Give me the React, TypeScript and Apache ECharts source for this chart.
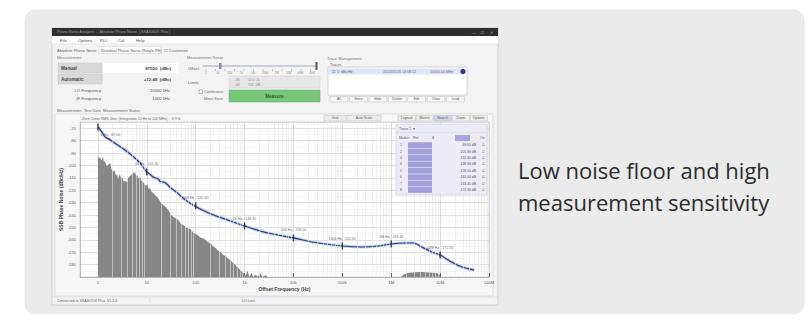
import React, { useEffect, useRef } from 'react';
import * as echarts from 'echarts';

// ---------- data ----------
const xTickLabels = ['1', '10', '100', '1k', '10k', '100k', '1M', '10M', '100M'];
const yTickMin = -190;
const yTickMax = -65;

const curveFreqs = [1, 1.2, 1.4, 1.8, 2.2, 3, 4, 5.5, 7.3, 10, 11.5, 13.5, 15, 17, 19, 22, 26, 30, 35, 42, 49, 65, 90, 130, 230, 450, 1000, 3000, 10000, 32000, 100000, 250000, 550000, 1000000, 1900000, 2900000, 4200000, 6800000, 10000000, 17000000, 28000000, 50000000];
const curveValues = [-69, -73, -77, -79.5, -82, -85.5, -89, -93.5, -98, -105.3, -107, -109.4, -110.2, -110.8, -113.2, -113.4, -115.2, -117.8, -119.8, -122, -124.7, -128.5, -132.1, -135.6, -140, -144, -148.9, -154.5, -158.5, -162.6, -165, -165.8, -165, -163.4, -162.6, -162.6, -165.8, -169.8, -172.3, -177.9, -181.9, -184.4];

const floorFreqs = [1, 1.05, 1.1, 1.17, 1.27, 1.33, 1.39, 1.5, 1.61, 1.77, 1.9, 2.04, 2.2, 2.35, 2.47, 2.58, 2.7, 2.84, 3.0, 3.12, 3.35, 3.59, 3.95, 4.2, 4.55, 4.9, 5.25, 5.5, 5.77, 6.1, 6.35, 6.8, 7.31, 7.9, 8.43, 9.2, 10.2, 11, 11.7, 12.6, 13.5, 15.2, 17, 19, 21.7, 24.5, 27.5, 31, 35, 39, 44, 50, 56, 66, 78, 92, 109, 128, 151, 175, 200, 228, 256, 290, 324, 365, 410, 465, 520, 575, 630, 680, 720, 775, 830, 900, 960, 1050, 1150, 1250, 1400, 1500, 1700, 1850, 2100, 2300, 2700, 3000, 1600000, 1800000, 2100000, 3000000, 4200000, 6000000, 8500000, 9800000, 10000000];
const floorValues = [-91.6, -95, -93, -96, -93.2, -97.5, -96.5, -100.5, -99.7, -98.1, -103, -105.3, -104, -108.5, -107, -111.8, -108, -107.7, -111, -109.4, -113, -112.6, -113.4, -110, -108.5, -107.5, -105.3, -106.8, -105.3, -108.5, -107.7, -110.5, -109.4, -113, -113.4, -116.2, -115.8, -119, -118.2, -121.5, -122.3, -124.5, -126.3, -129.5, -131.9, -133.5, -136, -139.5, -141.6, -142.5, -144, -147, -148.1, -150.5, -151.3, -154.5, -156.1, -158.3, -159.4, -161.8, -162.6, -165.5, -166.6, -168.8, -169.8, -172, -173, -175.5, -176.3, -178.8, -179.5, -181.5, -181.9, -183.6, -184.4, -186.2, -186.8, -189, -185, -190, -186.5, -190, -188, -190, -186.8, -190, -188.5, -190, -190, -188, -186.8, -186.2, -186, -186.3, -186.8, -188, -190];

const markerFreqs = [1, 10, 100, 1000, 10000, 100000, 1000000, 10000000];
const markerValues = [-69.0, -105.3, -132.4, -148.9, -158.5, -165.0, -163.4, -172.3];

const headline = ['Low noise floor and high', 'measurement sensitivity'];

// ---------- helpers ----------
const UI = 'Liberation Sans, Arial, sans-serif';
const R = (x: number, y: number, w: number, h: number, fill: string, stroke?: string, z = -10, r = 0) => ({
  type: 'rect', z, silent: true,
  shape: { x, y, width: w, height: h, r },
  style: { fill, stroke: stroke || 'none', lineWidth: stroke ? 0.6 : 0 },
});
const T = (x: number, y: number, text: string, size = 4.3, fill = '#555', align = 'left', weight = 'normal', z = -5) => ({
  type: 'text', z, silent: true, x, y,
  style: { text, fontSize: size, fontFamily: UI, fill, align, verticalAlign: 'middle', fontWeight: weight },
});
const L = (x1: number, y1: number, x2: number, y2: number, stroke: string, lw = 0.6, z = -5) => ({
  type: 'line', z, silent: true, shape: { x1, y1, x2, y2 }, style: { stroke, lineWidth: lw },
});

const fmtFreq = (f: number) => xTickLabels[Math.round(Math.log10(f))] + ' Hz';

function buildGraphics() {
  const g: any[] = [];
  // card
  g.push(R(25, 10, 779, 304, '#ebebeb', '#e0e0e0', -20, 10));
  // window
  g.push(R(52, 28, 446, 277, '#f3f3f3', '#bcbcbc', -19));
  g.push(R(52, 28, 446, 8, '#2f2f2f', undefined, -18));
  g.push(T(57, 32, 'Phase Noise Analyzer  -  Absolute Phase Noise  [ SSA3000X Plus ]', 3.8, '#9a9a9a'));
  g.push(T(472, 32, '—', 4, '#aaa'), T(481, 32, '□', 4.5, '#aaa'), T(490, 32, '✕', 4, '#aaa'));
  // menu
  g.push(R(52, 36, 446, 8, '#fdfdfd', undefined, -18));
  ['File', 'Options', 'PLL', 'Cal', 'Help'].forEach((m, i) => g.push(T([60, 78, 100, 118, 136][i], 40, m, 4.2, '#555')));
  g.push(L(52, 44, 498, 44, '#dddddd'));
  // tabs
  g.push(R(99, 46.5, 62, 7, '#fbfbfb', '#d6d6d6', -18));
  g.push(T(57, 50, 'Absolute Phase Noise', 4, '#666'));
  g.push(T(101, 50, 'Residual Phase Noise (Single RF)', 4, '#666'));
  g.push(T(164, 50, '☐ Customize', 4, '#666'));
  // left group
  g.push(T(57, 57, 'Measurement', 4, '#777'));
  g.push(R(58, 63, 44, 10, '#d9d9d9', '#cfcfcf', -18));
  g.push(R(58, 74, 44, 10, '#d9d9d9', '#cfcfcf', -18));
  g.push(T(61, 68, 'Manual', 4.6, '#444', 'left', 'bold'));
  g.push(T(61, 79, 'Automatic', 4.6, '#444', 'left', 'bold'));
  g.push(R(103, 63, 75, 10, '#ffffff', undefined, -18));
  g.push(T(171, 68, '87500  (dBc)', 4.4, '#444', 'right', 'bold'));
  g.push(T(171, 79, '+12.48  (dBc)', 4.4, '#444', 'right', 'bold'));
  g.push(T(101, 90, 'LO Frequency', 4.2, '#555', 'right'));
  g.push(T(101, 98, 'IF Frequency', 4.2, '#555', 'right'));
  g.push(T(170, 90, '10000 kHz', 4.2, '#555', 'right'));
  g.push(T(170, 98, '1000 kHz', 4.2, '#555', 'right'));
  // middle group
  g.push(T(187, 57, 'Measurement Setup', 4, '#777'));
  g.push(T(188, 68, 'Offset', 4.2, '#555'));
  g.push(L(203, 66, 317, 66, '#9aa6c4', 1));
  for (let i = 0; i < 12; i++) g.push(L(206 + i * 9.5, 69, 206 + i * 9.5, 71, '#888', 0.5));
  ['1', '10', '100', '1k', '10k', '100k', '1M', '10M', '40M', '80M'].forEach((s, i) => g.push(T(206 + i * 11.8, 73, s, 2.8, '#888', 'center')));
  g.push(R(219, 63, 2.5, 6, '#7f8fbf', undefined, -4));
  g.push(R(315.5, 62, 2, 8, '#555', undefined, -4));
  g.push(T(188, 82, 'Limits', 4.2, '#555'));
  g.push(R(229, 76, 91, 12, '#e6e6e6', '#d6d6d6', -18));
  g.push(T(235, 79.5, '-30', 3.3, '#888'), T(235, 84.5, '-60', 3.3, '#888'));
  g.push(T(248, 79.5, '10.0  1k', 3.3, '#888'), T(248, 84.5, '100  1M', 3.3, '#888'));
  g.push(R(199, 90, 3.5, 3.5, '#fff', '#888', -4));
  g.push(T(204, 92, 'Continuous', 3.8, '#666'));
  g.push(T(204, 98.5, 'Meas Save', 3.8, '#666'));
  g.push(R(229, 90, 91, 12, '#79c67a', '#6ab56b', -18));
  g.push(T(274.5, 96, 'Measure', 4.6, '#2f5f30', 'center', 'bold'));
  // right group
  g.push(T(327, 58, 'Trace Management', 4, '#777'));
  g.push(T(330, 64.5, 'Traces', 3.8, '#666'));
  g.push(R(328, 67, 139, 28, '#ffffff', '#bdbdbd', -18));
  g.push(R(329, 68.5, 137, 6, '#dde5f6', undefined, -17));
  g.push(T(332, 71.5, '☑ 1: dBc/Hz', 3.6, '#555'));
  g.push(T(383, 71.5, '2024/05/16 14:08:12', 3.6, '#666'));
  g.push(T(430, 71.5, '10000.00 MHz', 3.6, '#666'));
  g.push({ type: 'circle', z: -4, silent: true, shape: { cx: 463, cy: 71.5, r: 2.6 }, style: { fill: '#2b3a86' } });
  ['All', 'Show', 'Hide', 'Delete', 'Edit', 'Clear', 'Load'].forEach((b, i) => {
    g.push(R(330 + i * 19.4, 96.5, 18, 5.5, '#f7f7f7', '#c4c4c4', -17));
    g.push(T(339 + i * 19.4, 99.3, b, 3.4, '#555', 'center'));
  });
  // measurement info line
  g.push(T(57, 110.5, 'Measurement', 4, '#666'));
  g.push(T(84, 110.5, 'Test Date  Measurement Status', 4, '#666'));
  // plot panel
  g.push(R(55, 114, 438, 182, '#f6f6f6', '#d2d2d2', -18));
  g.push(T(82, 118.5, 'Zero Cross RMS Jitter (Integration 10 Hz to 100 MHz) :  8.9 fs', 3.6, '#666'));
  g.push(R(324, 115.5, 22, 5.5, '#ededed', '#c8c8c8', -17), T(335, 118.3, 'Grid', 3.4, '#555', 'center'));
  g.push(R(347, 115.5, 34, 5.5, '#ededed', '#c8c8c8', -17), T(364, 118.3, 'Auto Scale', 3.4, '#555', 'center'));
  ['Legend', 'Marker', 'Search', 'Zoom', 'Options'].forEach((b, i) => {
    g.push(R(398 + i * 18, 115.5, 17.5, 5.5, i === 2 ? '#cfd3e6' : '#ededed', '#c8c8c8', -17));
    g.push(T(406.7 + i * 18, 118.3, b, 3.4, '#555', 'center'));
  });
  // status bar
  g.push(L(52, 297, 498, 297, '#d6d6d6'));
  g.push(T(57, 300.5, 'Connected to SSA3075X Plus  V1.2.0', 3.6, '#666'));
  g.push(T(242, 300.5, 'LO Lock', 3.6, '#666'));
  g.push(L(150, 298, 150, 303, '#cfcfcf'));

  // legend table over the plot
  const tz = 50;
  g.push(R(396, 124, 91, 71, '#ecebf6', '#c8c8de', tz));
  g.push(T(399, 129, 'Trace 1  ▾', 3.6, '#555', 'left', 'normal', tz + 1));
  g.push(L(396, 132.5, 487, 132.5, '#d0d0e2', 0.5, tz + 1));
  g.push(T(399, 138, 'Marker', 3.4, '#555', 'left', 'normal', tz + 1));
  g.push(T(413, 138, 'Ref', 3.4, '#555', 'left', 'normal', tz + 1));
  g.push(T(432, 138, 'Δ', 3.4, '#555', 'left', 'normal', tz + 1));
  g.push(R(455, 135, 15, 6, '#a7a6dc', undefined, tz + 1));
  g.push(T(480, 138, 'On', 3.4, '#555', 'left', 'normal', tz + 1));
  markerValues.forEach((v, i) => {
    const y = 142 + i * 6.4;
    g.push(T(400, y + 3.2, String(i + 1), 3.4, '#555', 'left', 'normal', tz + 1));
    g.push(R(408, y + 0.3, 24, 5.8, '#a19fdc', undefined, tz + 1));
    g.push(T(476, y + 3.2, v.toFixed(2) + ' dB', 3.4, '#555', 'right', 'normal', tz + 1));
    g.push(T(482, y + 3.2, '☑', 3.4, '#666', 'left', 'normal', tz + 1));
  });

  // headline on the card
  headline.forEach((s, i) => g.push({
    type: 'text', z: 10, silent: true, x: 518, y: 159 + i * 32,
    style: { text: s, fontSize: 22, fontFamily: 'Open Sans, Noto Sans, sans-serif', fill: '#2b2b2b', align: 'left', verticalAlign: 'alphabetic' },
  }));
  return g;
}

const minorGrid: number[] = [];
for (let d = 0; d < 8; d++) for (let k = 2; k <= 9; k++) minorGrid.push(k * Math.pow(10, d));

export default function App() {
  const ref = useRef<HTMLDivElement>(null);
  useEffect(() => {
    if (!ref.current) return;
    const chart = echarts.init(ref.current, undefined, { renderer: 'svg' });
    const curve = curveFreqs.map((f, i) => [f, curveValues[i]]);
    const floor = floorFreqs.map((f, i) => [f, floorValues[i]]);
    chart.setOption({
      animation: false,
      backgroundColor: '#ffffff',
      graphic: { elements: buildGraphics() },
      grid: { left: 80, right: 318, top: 122, bottom: 43, show: true, backgroundColor: '#ffffff', borderColor: '#c4c4c4', borderWidth: 0.6 },
      xAxis: {
        type: 'log', logBase: 10, min: 0.43, max: 1e8,
        name: 'Offset Frequency (Hz)', nameLocation: 'middle', nameGap: 9,
        nameTextStyle: { fontSize: 5, fontFamily: UI, color: '#444', fontWeight: 'bold' },
        axisLine: { show: true, lineStyle: { color: '#999', width: 0.6 } },
        axisTick: { show: true, inside: true, length: 4, lineStyle: { color: '#444', width: 0.8 } },
        axisLabel: {
          fontSize: 4.3, fontFamily: UI, color: '#666', margin: 3, showMinLabel: false,
          formatter: (v: number) => { const k = Math.round(Math.log10(v)); return Math.abs(Math.log10(v) - k) < 1e-6 ? (xTickLabels[k] ?? '') : ''; },
        },
        splitLine: { show: true, showMinLine: false, lineStyle: { color: '#cfcfcf', width: 0.7 } },
      },
      yAxis: {
        type: 'value', min: yTickMin, max: yTickMax, interval: 10,
        name: 'SSB Phase Noise (dBc/Hz)', nameLocation: 'middle', nameGap: 17, nameRotate: 90,
        nameMoveOverlap: false,
        nameTextStyle: { fontSize: 5, fontFamily: UI, color: '#444', fontWeight: 'bold' },
        axisLine: { show: true, lineStyle: { color: '#999', width: 0.6 } },
        axisTick: { show: false },
        axisLabel: { fontSize: 4.3, fontFamily: UI, color: '#666', margin: 4, showMinLabel: false, showMaxLabel: false },
        splitLine: { show: true, lineStyle: { color: '#d2d2d2', width: 0.7 } },
        minorTick: { show: false, splitNumber: 2 },
        minorSplitLine: { show: true, lineStyle: { color: '#ececec', width: 0.6 } },
      },
      series: [
        {
          type: 'line', data: [], z: 1, silent: true,
          markLine: {
            silent: true, symbol: 'none', label: { show: false },
            lineStyle: { color: '#e6e6e6', width: 0.6, type: 'solid' },
            data: minorGrid.map((f) => ({ xAxis: f })),
          },
        },
        {
          type: 'line', data: floor, z: 2, showSymbol: false, silent: true,
          lineStyle: { width: 0 },
          areaStyle: { color: '#878787', opacity: 1, origin: 'start' },
        },
        {
          type: 'line', data: curve, z: 3, showSymbol: false, silent: true, smooth: 0.25,
          lineStyle: { width: 3.2, color: '#c2d0ec' },
        },
        {
          type: 'line', data: curve, z: 4, showSymbol: false, silent: true, smooth: 0.25,
          lineStyle: { width: 1.2, color: '#2a3b86' },
        },
        {
          type: 'scatter', z: 5, silent: true, symbol: 'rect', symbolSize: [1.4, 7],
          itemStyle: { color: '#1c1c1c' },
          data: markerFreqs.map((f, i) => ({
            value: [f, markerValues[i]],
            label: i === 0 ? { position: 'right', distance: 2, offset: [0, 8] } : undefined,
          })),
          label: {
            show: true, position: 'top', distance: 2, fontSize: 3.6, fontFamily: UI, color: '#444',
            formatter: (p: any) => fmtFreq(p.value[0]) + ', ' + p.value[1].toFixed(2),
          },
        },
      ],
    });
    return () => chart.dispose();
  }, []);
  return <div ref={ref} style={{ position: 'fixed', left: 0, top: 0, width: 807, height: 320 }} />;
}
